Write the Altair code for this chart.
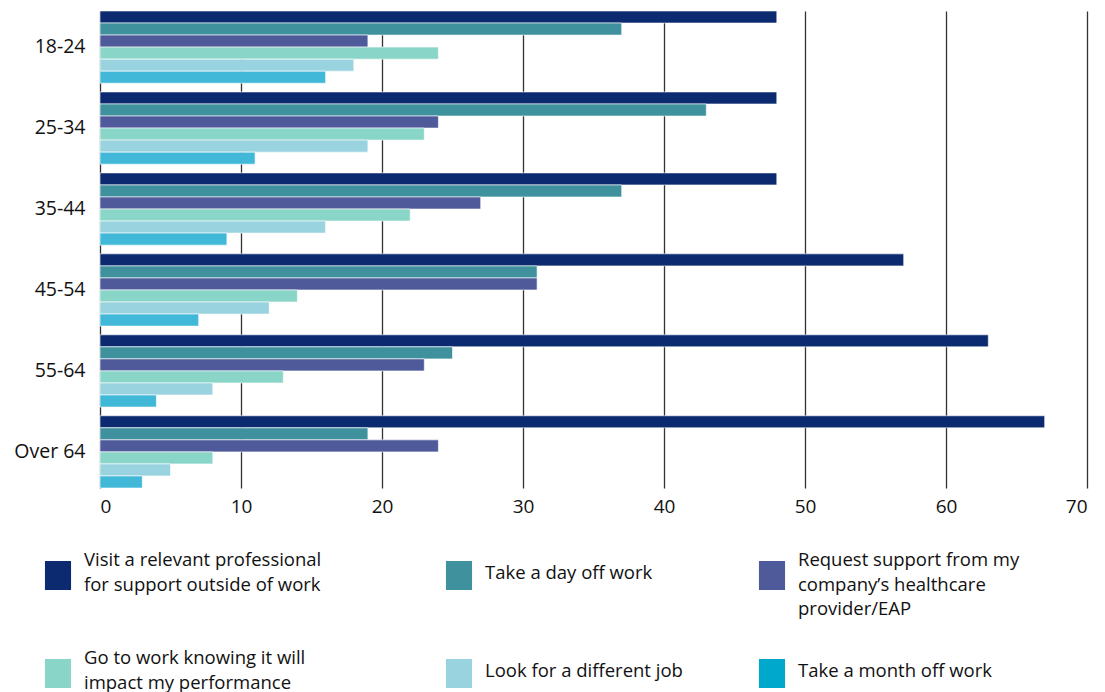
import altair as alt
import pandas as pd

FONT = "Open Sans"

ages = ["18-24", "25-34", "35-44", "45-54", "55-64", "Over 64"]
series = [
    "Visit a relevant professional for support outside of work",
    "Take a day off work",
    "Request support from my company’s healthcare provider/EAP",
    "Go to work knowing it will impact my performance",
    "Look for a different job",
    "Take a month off work",
]
legend_labels = [
    "Visit a relevant professional\nfor support outside of work",
    "Take a day off work",
    "Request support from my\ncompany’s healthcare\nprovider/EAP",
    "Go to work knowing it will\nimpact my performance",
    "Look for a different job",
    "Take a month off work",
]
colors = ["#0b2a6f", "#3f919e", "#4f5a9a", "#89d6c8", "#99d3e0", "#41b8d8"]
swatch_colors = ["#0b2a6f", "#3f919e", "#4f5a9a", "#89d6c8", "#99d3e0", "#00a8cc"]

visit_professional = [48, 48, 48, 57, 63, 67]
day_off = [37, 43, 37, 31, 25, 19]
request_support = [19, 24, 27, 31, 23, 24]
go_to_work = [24, 23, 22, 14, 13, 8]
different_job = [18, 19, 16, 12, 8, 5]
month_off = [16, 11, 9, 7, 4, 3]

all_values = [visit_professional, day_off, request_support, go_to_work, different_job, month_off]
rows = []
for s, vals in zip(series, all_values):
    for a, v in zip(ages, vals):
        rows.append({"age": a, "series": s, "value": v})
df = pd.DataFrame(rows)

leg_df = pd.DataFrame({
    "series": series,
    "label": legend_labels,
    "col": [i % 3 for i in range(len(series))],
    "row": [i // 3 for i in range(len(series))],
})

bars = alt.Chart(df).mark_bar(stroke="white", strokeWidth=1, strokeOpacity=0.6).encode(
    y=alt.Y("age:N", sort=ages,
            scale=alt.Scale(paddingInner=0.108, paddingOuter=0),
            axis=alt.Axis(title=None, ticks=False, domain=False, labelFontSize=19.5,
                          labelPadding=15, labelColor="#111", labelFont=FONT)),
    yOffset=alt.YOffset("series:N", sort=series,
                        scale=alt.Scale(paddingInner=0, paddingOuter=0)),
    x=alt.X("value:Q", scale=alt.Scale(domain=[0, 70], nice=False),
            axis=alt.Axis(values=list(range(0, 71, 10)), title=None, grid=True,
                          gridColor="#333333", gridWidth=1.3, domain=False, ticks=False,
                          labelFontSize=19, labelPadding=9, labelColor="#111",
                          labelFont=FONT)),
    color=alt.Color("series:N", sort=series,
                    scale=alt.Scale(domain=series, range=colors), legend=None),
)

leg_base = alt.Chart(leg_df).transform_calculate(
    ty="datum.row - (length(split(datum.label, '\\n')) > 1 ? 0.13 : 0)"
)
x_leg = alt.X("col:Q", scale=alt.Scale(domain=[0, 1, 2], range=[-42, 359, 672]), axis=None)

swatches = leg_base.mark_point(
    shape="M-0.9,-1L0.9,-1L0.9,1L-0.9,1Z", filled=True, size=841, opacity=1
).encode(
    x=x_leg,
    y=alt.Y("row:Q", scale=alt.Scale(domain=[0, 1], range=[564.5, 662.5]), axis=None),
    color=alt.Color("series:N", sort=series,
                    scale=alt.Scale(domain=series, range=swatch_colors), legend=None),
)

texts = leg_base.mark_text(
    align="left", baseline="middle", dx=26, fontSize=18.5, lineHeight=24.5,
    lineBreak="\n", font=FONT, color="#111"
).encode(
    x=x_leg,
    y=alt.Y("ty:Q", scale=alt.Scale(domain=[0, 1], range=[562, 660]), axis=None),
    text="label:N",
)

chart = alt.layer(bars, swatches, texts).resolve_scale(
    x="independent", y="independent", color="independent"
).properties(
    width=987, height=477,
    autosize=alt.AutoSizeParams(type="none"),
    padding={"left": 100, "top": 11, "right": 18, "bottom": 204},
).configure_view(stroke=None)

chart.save("out.html", embed_options={"renderer": "svg", "actions": False})
